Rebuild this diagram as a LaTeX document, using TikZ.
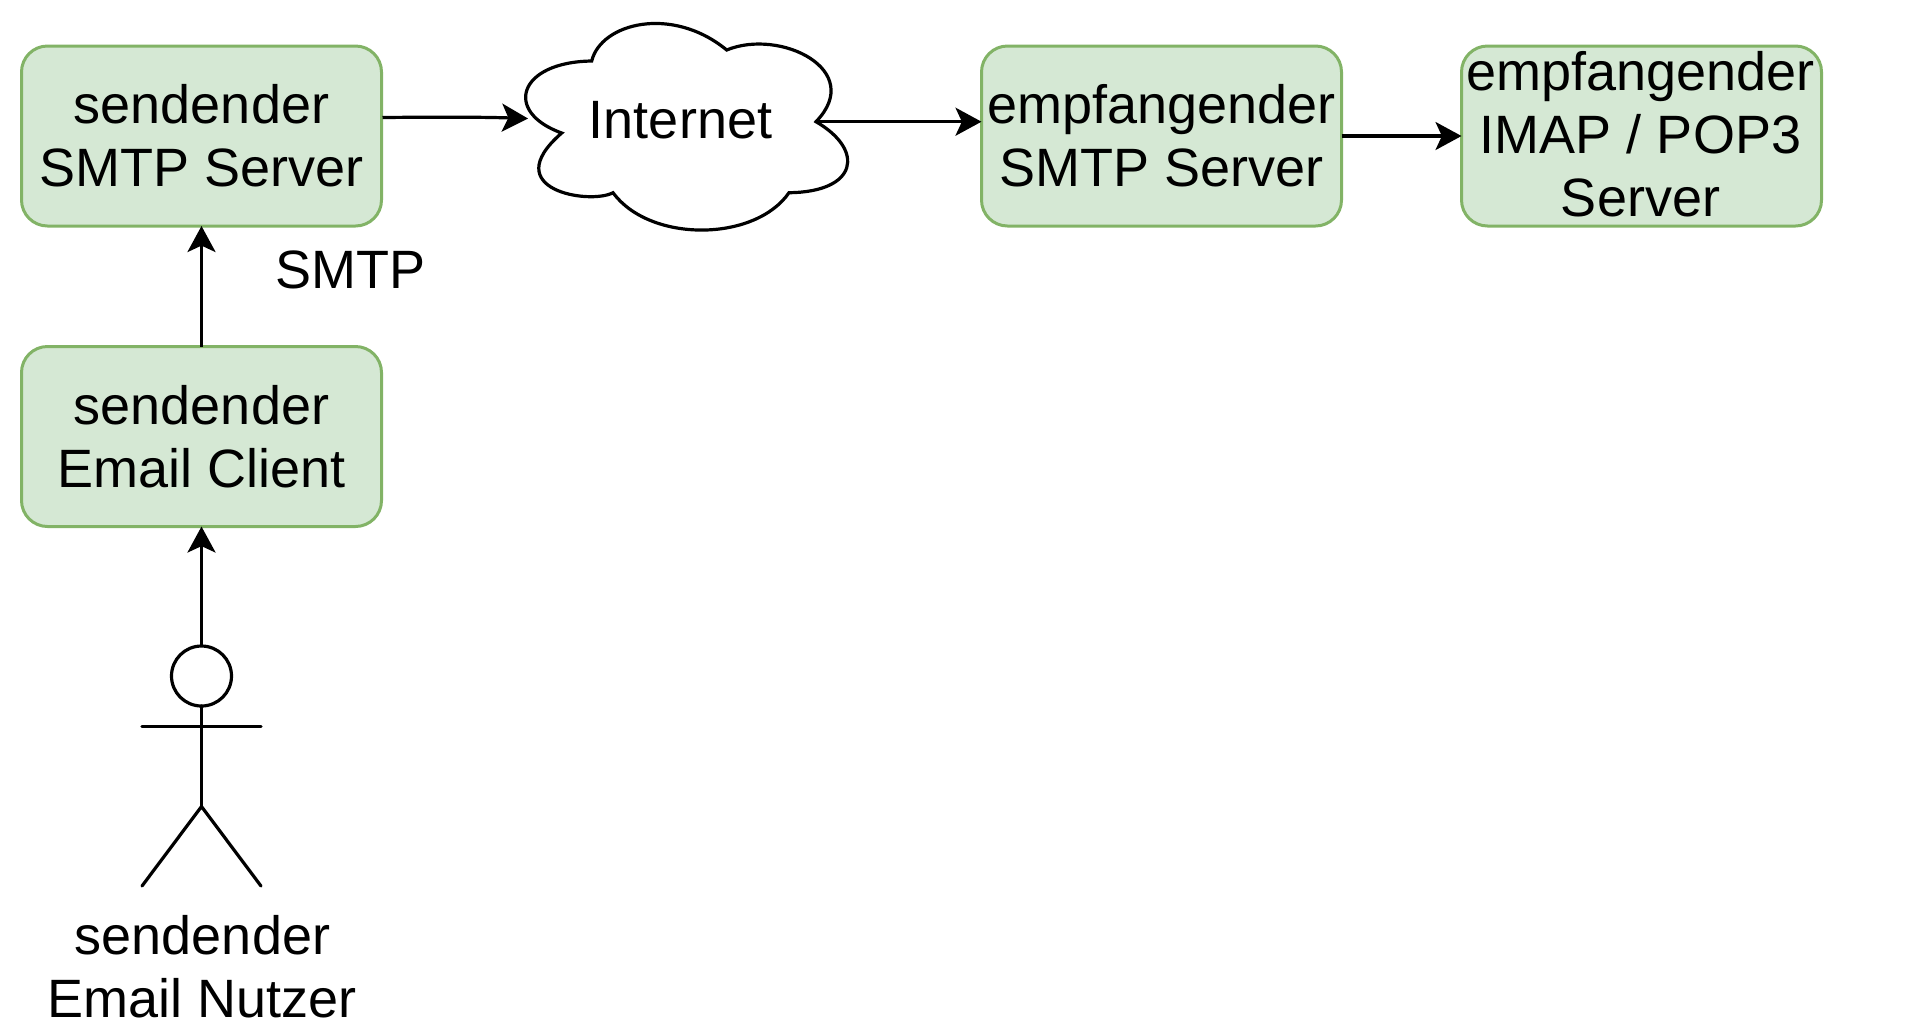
\documentclass[tikz,border=0pt]{standalone}
\usepackage{fontspec}
\setmainfont{Liberation Sans}
\usetikzlibrary{arrows.meta}
\definecolor{boxfill}{HTML}{D5E8D4}
\definecolor{boxline}{HTML}{82B366}
\tikzset{
  lbl/.style={font=\fontsize{27}{31.5}\selectfont,align=center,inner sep=0pt},
  box/.style={lbl,draw=boxline,fill=boxfill,line width=1.5pt,rounded corners=13pt,minimum width=180pt,minimum height=90pt,outer sep=0pt},
  conn/.style={line width=1.6pt,-{Stealth[length=13pt,width=14pt,inset=3.2pt]}},
  stick/.style={line width=1.6pt,line cap=round},
}
\begin{document}
\begin{tikzpicture}[x=0.5pt,y=-0.5pt]
\useasboundingbox (0,0) rectangle (1916,1035);
\node[box] (s1) at (201.5,136) {sendender\\SMTP Server};
\node[box] (c1) at (201.5,436.5) {sendender\\Email Client};
\node[box] (r1) at (1161.5,136) {empfangender\\SMTP Server};
\node[box] (r2) at (1641.5,136) {\phantom{x}};
\node[lbl] (r2t) at (1640.5,134.5) {empfangender\\IMAP / POP3\\Server};
% cloud
\draw[line width=1.6pt,fill=white]
  (591.7,61) .. controls (601,23) and (672,5) .. (726.7,50)
  .. controls (780,28) and (866,70) .. (816,121.7)
  .. controls (865,150) and (858,192) .. (789,192.7)
  .. controls (755,242) and (650,243) .. (613,192.7)
  .. controls (590,205) and (496,190) .. (561.7,133)
  .. controls (503,112) and (518,62) .. (591.7,61) -- cycle;
\node[lbl] (net) at (680.5,120) {Internet};
\coordinate (netin) at (528,118.5);
\coordinate (netout) at (816,121.7);
\coordinate (s1out) at (382.5,117.5);
\draw[conn] (s1out) .. controls (440,117) and (480,117) .. (netin);
\draw[conn] (netout) -- (netout -| r1.west);
\draw[conn] (r1.east) -- (r2.west);
\draw[conn] (c1.north) -- (s1.south);
\node[lbl] (smtp) at (350.5,270) {SMTP};
% actor
\node[circle,draw,fill=white,line width=1.6pt,minimum size=30pt,inner sep=0pt,outer sep=0pt] (head) at (201.5,676) {};
\coordinate (hip) at (201.5,806.5);
\draw[stick] (head.south) -- (hip);
\draw[stick] (142,726.5) -- (261,726.5);
\draw[stick] (142,886) -- (hip) -- (261,886);
\draw[conn] (head.north) -- (c1.south);
\node[lbl] (user) at (202.5,967) {sendender\\Email Nutzer};
\end{tikzpicture}
\end{document}
